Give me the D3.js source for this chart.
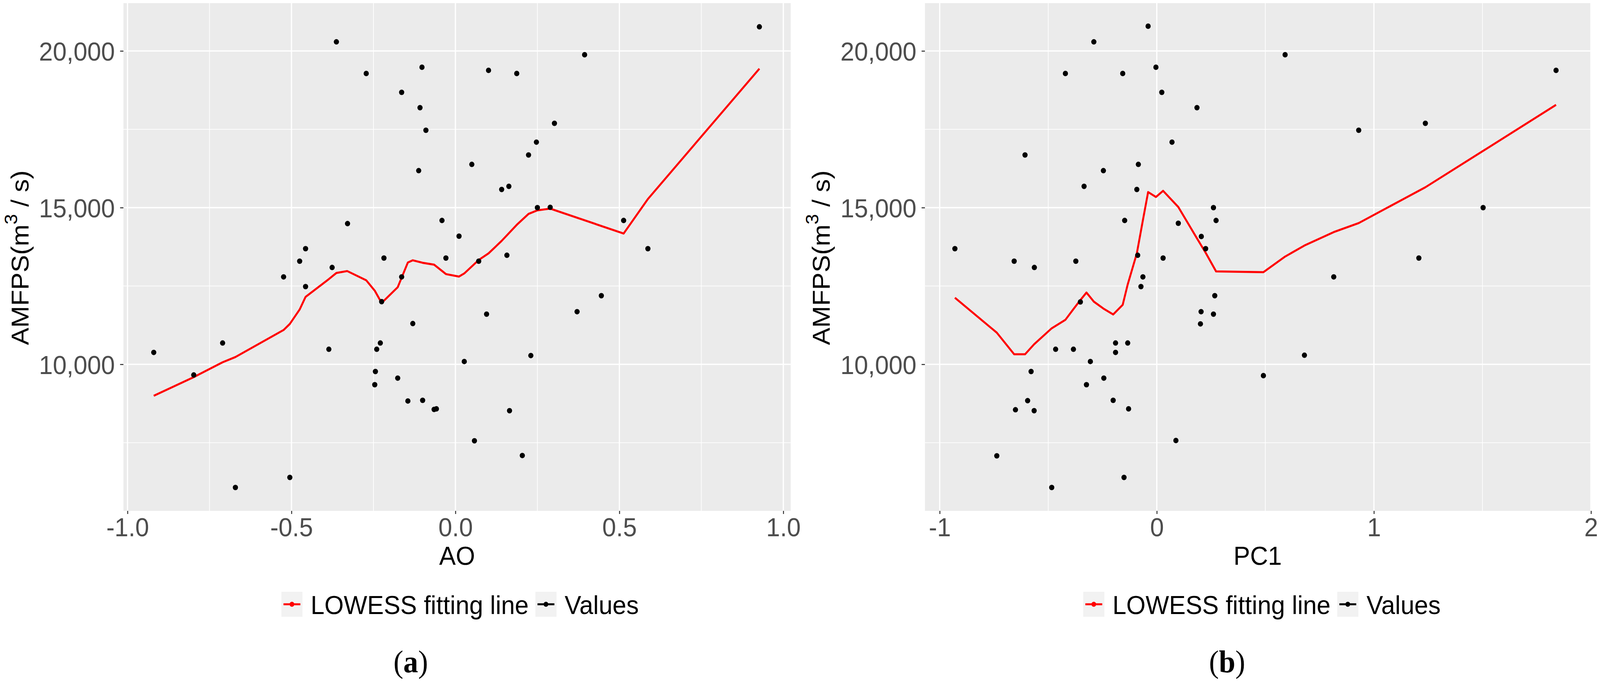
<!DOCTYPE html>
<html><head><meta charset="utf-8">
<script src="https://cdn.jsdelivr.net/npm/d3@7"></script>
<style>html,body{margin:0;padding:0;background:#fff;width:100%;height:100%;overflow:hidden;} svg{display:block;width:100vw;height:100vh;}</style>
</head><body>
<svg id="chart" viewBox="0 0 4316 1750" preserveAspectRatio="none"></svg>
<script>
// ---------- data ----------
const aoX = [-0.920,-0.798,-0.710,-0.671,-0.524,-0.505,-0.475,-0.457,-0.457,-0.386,-0.376,-0.363,-0.329,-0.272,-0.246,-0.244,-0.240,-0.229,-0.225,-0.218,-0.176,-0.164,-0.164,-0.145,-0.130,-0.112,-0.108,-0.102,-0.100,-0.090,-0.065,-0.058,-0.041,-0.029,0.011,0.027,0.050,0.058,0.071,0.095,0.101,0.141,0.157,0.163,0.165,0.187,0.204,0.223,0.230,0.247,0.250,0.289,0.302,0.371,0.394,0.445,0.513,0.587,0.927];
const aoY = [10380,9660,10680,6070,12790,6390,13290,13690,12480,10480,13090,20290,14490,19280,9350,9770,10480,10680,12000,13390,9560,18680,12790,8830,11300,16180,18190,19480,8850,17470,8560,8580,14590,13390,14090,10090,16380,7560,13290,11600,19380,15580,13480,15680,8520,19280,7090,16680,10280,17090,15000,15010,17690,11680,19880,12190,14590,13690,20770];

const pc1X = [-0.930,-0.737,-0.657,-0.651,-0.607,-0.595,-0.579,-0.565,-0.564,-0.484,-0.466,-0.421,-0.384,-0.373,-0.352,-0.335,-0.324,-0.306,-0.290,-0.246,-0.244,-0.201,-0.190,-0.190,-0.157,-0.151,-0.148,-0.134,-0.130,-0.092,-0.088,-0.085,-0.073,-0.064,-0.040,-0.004,0.023,0.029,0.070,0.088,0.099,0.185,0.201,0.204,0.205,0.225,0.261,0.261,0.267,0.273,0.491,0.591,0.680,0.815,0.930,1.207,1.237,1.503,1.839];
const pc1Y = [13690,7080,13290,8550,16680,8840,9770,8520,13090,6070,10480,19280,10480,13290,11990,15680,9350,10090,20290,16180,9560,8850,10680,10380,19280,6390,14590,10680,8580,15580,13480,16380,12480,12790,20790,19480,18680,13390,17090,7570,14500,18190,11290,11680,14080,13690,15000,11600,12190,14590,9640,19880,10290,12790,17470,13390,17690,15000,19380];

const lowessAoX = [-0.920,-0.798,-0.710,-0.671,-0.524,-0.505,-0.475,-0.457,-0.386,-0.363,-0.330,-0.272,-0.246,-0.225,-0.176,-0.145,-0.130,-0.100,-0.065,-0.029,0.011,0.027,0.071,0.101,0.141,0.187,0.223,0.250,0.289,0.513,0.587,0.927];
const lowessAoY = [8996,9592,10065,10232,11095,11289,11750,12152,12720,12915,12976,12681,12350,11958,12459,13250,13320,13240,13180,12880,12800,12900,13330,13540,13940,14450,14800,14914,14969,14173,15275,19433];

const lowessPcX = [-0.930,-0.737,-0.657,-0.607,-0.565,-0.484,-0.421,-0.384,-0.352,-0.324,-0.290,-0.246,-0.201,-0.157,-0.134,-0.092,-0.064,-0.040,-0.004,0.029,0.099,0.185,0.225,0.273,0.491,0.591,0.680,0.815,0.930,1.237,1.503,1.839];
const lowessPcY = [12125,11010,10320,10320,10640,11150,11420,11760,12050,12290,12000,11780,11590,11900,12550,13540,14600,15497,15340,15536,15020,14020,13560,12965,12940,13438,13790,14220,14507,15650,16810,18280];

const yTickValues = [10000, 15000, 20000];
const yTickLabels = ["10,000", "15,000", "20,000"];
const yMinorValues = [7500, 12500, 17500];
const aoTickValues = [-1, -0.5, 0, 0.5, 1];
const aoTickLabels = ["-1.0", "-0.5", "0.0", "0.5", "1.0"];
const aoMinorValues = [-0.75, -0.25, 0.25, 0.75];
const pcTickValues = [-1, 0, 1, 2];
const pcTickLabels = ["-1", "0", "1", "2"];
const pcMinorValues = [-0.5, 0.5, 1.5];
const legendLabels = ["LOWESS fitting line", "Values"];
const legendColors = ["#ff0000", "#000000"];

// ---------- drawing ----------
const FONT = "'Liberation Sans', Arial, Helvetica, sans-serif";
const SERIF = "'Liberation Serif', 'Times New Roman', serif";
const svg = d3.select("#chart");
svg.append("rect").attr("width", 4316).attr("height", 1750).attr("fill", "#fff");

const PT = 8, PB = 1307;
const y = d3.scaleLinear().domain([5324, 21526]).range([PB, PT]);

function drawPanel(c) {
  const x = d3.scaleLinear().domain(c.xDomain).range(c.xRange);
  const [x0, x1] = c.xRange;
  const g = svg.append("g");
  g.append("rect").attr("x", x0).attr("y", PT).attr("width", x1 - x0).attr("height", PB - PT).attr("fill", "#ebebeb");

  // grid
  g.selectAll(".vmin").data(c.xMinor).join("line")
    .attr("x1", d => x(d)).attr("x2", d => x(d)).attr("y1", PT).attr("y2", PB)
    .attr("stroke", "#fff").attr("stroke-width", 1.8);
  g.selectAll(".hmin").data(yMinorValues).join("line")
    .attr("x1", x0).attr("x2", x1).attr("y1", d => y(d)).attr("y2", d => y(d))
    .attr("stroke", "#fff").attr("stroke-width", 1.8);
  g.selectAll(".vmaj").data(c.xTicks).join("line")
    .attr("x1", d => x(d)).attr("x2", d => x(d)).attr("y1", PT).attr("y2", PB)
    .attr("stroke", "#fff").attr("stroke-width", 3.4);
  g.selectAll(".hmaj").data(yTickValues).join("line")
    .attr("x1", x0).attr("x2", x1).attr("y1", d => y(d)).attr("y2", d => y(d))
    .attr("stroke", "#fff").attr("stroke-width", 3.4);

  // LOWESS line
  const lineGen = d3.line().x(d => x(d[0])).y(d => y(d[1]));
  g.append("path").datum(d3.zip(c.lx, c.ly)).attr("d", lineGen)
    .attr("fill", "none").attr("stroke", "#ff0000").attr("stroke-width", 5.2)
    .attr("stroke-linejoin", "round");

  // points
  g.selectAll("circle.pt").data(d3.zip(c.xs, c.ys)).join("circle")
    .attr("class", "pt").attr("cx", d => x(d[0])).attr("cy", d => y(d[1]))
    .attr("r", 7).attr("fill", "#000");

  // axes
  const gx = g.append("g").attr("transform", `translate(0,${PB})`)
    .call(d3.axisBottom(x).tickValues(c.xTicks).tickFormat((d, i) => c.xLabels[i]).tickSize(8).tickPadding(9.5));
  gx.select(".domain").remove();
  gx.selectAll(".tick line").attr("stroke", "#333").attr("stroke-width", 2.6);
  gx.selectAll(".tick text").attr("fill", "#4d4d4d").style("font-family", FONT).style("font-size", "67px");

  const gy = g.append("g").attr("transform", `translate(${x0},0)`)
    .call(d3.axisLeft(y).tickValues(yTickValues).tickFormat((d, i) => yTickLabels[i]).tickSize(9).tickPadding(14));
  gy.select(".domain").remove();
  gy.selectAll(".tick line").attr("stroke", "#333").attr("stroke-width", 2.6);
  gy.selectAll(".tick text").attr("fill", "#4d4d4d").attr("dy", "0.36em").style("font-family", FONT).style("font-size", "67px");

  // x title
  g.append("text").attr("x", (x0 + x1) / 2).attr("y", 1445).attr("text-anchor", "middle")
    .style("font-family", FONT).style("font-size", "67px").attr("fill", "#000").text(c.xTitle);

  // y title
  const yt = g.append("text").attr("transform", `translate(${c.yTitleX},${(PT + PB) / 2 + 2}) rotate(-90)`)
    .attr("text-anchor", "middle").style("font-family", FONT).style("font-size", "67px").attr("fill", "#000");
  yt.append("tspan").text("AMFPS(m");
  yt.append("tspan").attr("dy", -31).style("font-size", "48px").text("3");
  yt.append("tspan").attr("dy", 31).text(" / s)");

  // legend
  const lg = g.append("g");
  const keyW = 57, keyH = 64, keyTop = 1514;
  let cx = 0;
  legendLabels.forEach((lab, i) => {
    const kg = lg.append("g").attr("transform", `translate(${cx},0)`);
    kg.append("rect").attr("x", 0).attr("y", keyTop).attr("width", keyW).attr("height", keyH).attr("fill", "#f2f2f2");
    kg.append("line").attr("x1", keyW * 0.1).attr("x2", keyW * 0.9).attr("y1", keyTop + keyH / 2).attr("y2", keyTop + keyH / 2)
      .attr("stroke", legendColors[i]).attr("stroke-width", 5.2);
    kg.append("circle").attr("cx", keyW / 2).attr("cy", keyTop + keyH / 2).attr("r", 6.5).attr("fill", legendColors[i]);
    const t = kg.append("text").attr("x", keyW + 22).attr("y", 1571).style("font-family", FONT).style("font-size", "67px")
      .attr("fill", "#000").text(lab);
    const w = t.node().getComputedTextLength();
    cx += keyW + 22 + w + 18;
  });
  const totalW = cx - 18;
  lg.attr("transform", `translate(${c.legendCenter - totalW / 2},0)`);

  // caption
  const cap = g.append("text").attr("x", c.captionX).attr("y", 1720).attr("text-anchor", "middle")
    .style("font-family", SERIF).style("font-size", "80px").attr("fill", "#000");
  cap.append("tspan").text("(");
  cap.append("tspan").style("font-weight", "bold").text(c.caption);
  cap.append("tspan").text(")");
}

drawPanel({
  xs: aoX, ys: aoY, lx: lowessAoX, ly: lowessAoY,
  xDomain: [-1.0124, 1.0226], xRange: [333, 2133],
  xTicks: aoTickValues, xLabels: aoTickLabels, xMinor: aoMinorValues,
  xTitle: "AO", yTitleX: 77, legendCenter: 1241, caption: "a", captionX: 1108
});
drawPanel({
  xs: pc1X, ys: pc1Y, lx: lowessPcX, ly: lowessPcY,
  xDomain: [-1.068, 1.997], xRange: [2495, 4290],
  xTicks: pcTickValues, xLabels: pcTickLabels, xMinor: pcMinorValues,
  xTitle: "PC1", yTitleX: 2238, legendCenter: 3404, caption: "b", captionX: 3310
});
</script>
</body></html>
